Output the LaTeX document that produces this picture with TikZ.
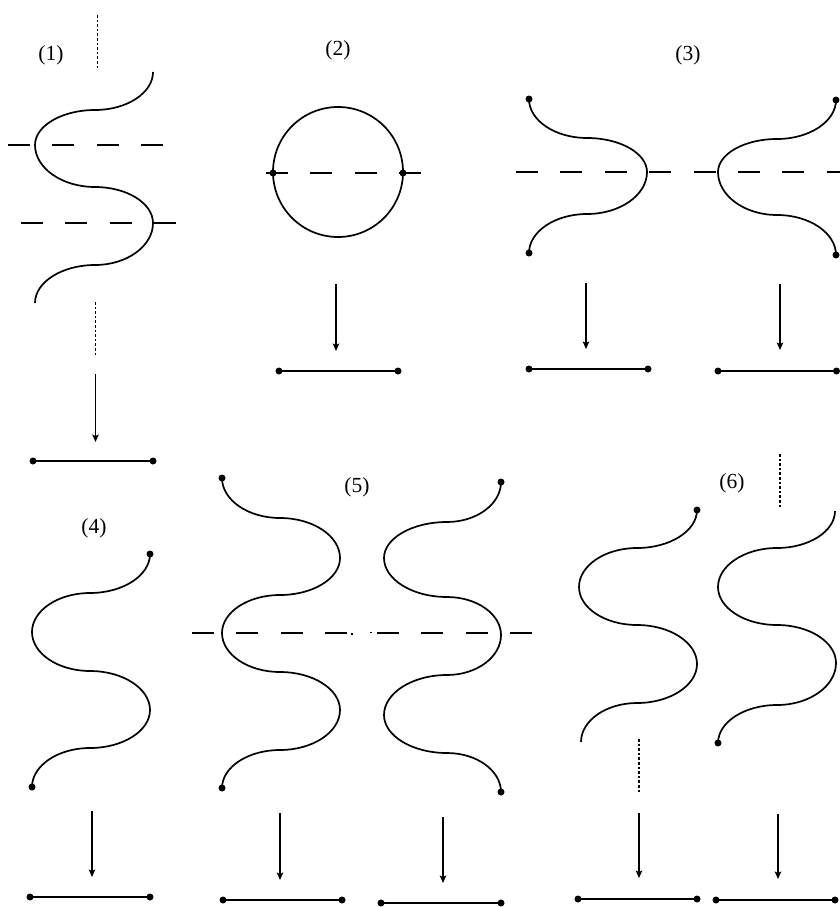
\documentclass[tikz,border=0pt]{standalone}
\usepackage{fontspec}
\setmainfont{Liberation Serif}
\usetikzlibrary{arrows.meta}
% vertical tangent at current point (#1,#2) -> horizontal tangent at (#3,#4)
\newcommand{\wvh}[4]{.. controls (#1,{#2+0.55*(#4-#2)}) and ({#3+0.55*(#1-#3)},#4) .. (#3,#4)}
% horizontal tangent at current point (#1,#2) -> vertical tangent at (#3,#4)
\newcommand{\whv}[4]{.. controls ({#1+0.55*(#3-#1)},#2) and (#3,{#4+0.55*(#2-#4)}) .. (#3,#4)}
\tikzset{
  wave/.style={line width=1.7pt},
  dashln/.style={line width=1.6pt, dash pattern=on 22pt off 22.4pt},
  dotln/.style={line width=1.7pt, dash pattern=on 2.6pt off 2pt},
  arr/.style={line width=1.6pt, -{Stealth[length=7.5pt,width=6.5pt,inset=1.5pt]}},
  seg/.style={line width=1.7pt},
  lbl/.style={font=\fontsize{21.5}{25}\selectfont, inner sep=0pt},
  blob/.style={fill=black},
}
\newcommand{\blobat}[1]{\fill[blob] #1 circle[radius=3.5];}
\begin{document}
\begin{tikzpicture}[x=1pt,y=-1pt]
\useasboundingbox (0,0) rectangle (840,907);

% ---------- panel (1)
\node[lbl] (l1) at (51,55) {(1)};
\draw[dotln] (97.5,15) -- (97.5,70);
\draw[wave] (153,72) \wvh{153}{72}{95}{110} \whv{95}{110}{35}{145}
  \wvh{35}{145}{95}{187} \whv{95}{187}{153}{223} \wvh{153}{223}{95}{265}
  \whv{95}{265}{35}{303};
\draw[dashln] (8,145) -- (164,145);
\draw[dashln] (21,223) -- (176,223);
\draw[dotln] (95.5,302) -- (95.5,355);
\coordinate (a1s) at (95.5,374); \coordinate (a1e) at (95.5,442);
\draw[arr] (a1s) -- (a1e);
\coordinate (b1l) at (33,461); \coordinate (b1r) at (153,461);
\draw[seg] (b1l) -- (b1r); \blobat{(b1l)} \blobat{(b1r)}

% ---------- panel (2)
\node[lbl] (l2) at (338,50) {(2)};
\draw[wave] (338,172) circle[radius=65];
\draw[dashln] (266,173) -- (422,173);
\blobat{(273,173)} \blobat{(403,173)}
\coordinate (a2s) at (336,284); \coordinate (a2e) at (336,351);
\draw[arr] (a2s) -- (a2e);
\coordinate (b2l) at (279,371); \coordinate (b2r) at (398,371);
\draw[seg] (b2l) -- (b2r); \blobat{(b2l)} \blobat{(b2r)}

% ---------- panel (3)
\node[lbl] (l3) at (688,55) {(3)};
\draw[wave] (529,99) \wvh{529}{99}{587}{138} \whv{587}{138}{647}{172}
  \wvh{647}{172}{587}{214} \whv{587}{214}{529}{253};
\blobat{(529,99)} \blobat{(529,253)}
\draw[wave] (836,100) \wvh{836}{100}{777}{139} \whv{777}{139}{718}{172}
  \wvh{718}{172}{777}{215} \whv{777}{215}{836}{255};
\blobat{(836,100)} \blobat{(836,255)}
\draw[dashln] (516,172) -- (845,172);
\coordinate (a3s) at (586,283); \coordinate (a3e) at (586,349);
\draw[arr] (a3s) -- (a3e);
\coordinate (a3s') at (780,284); \coordinate (a3e') at (780,350);
\draw[arr] (a3s') -- (a3e');
\coordinate (b3l) at (529,369); \coordinate (b3r) at (648,369);
\draw[seg] (b3l) -- (b3r); \blobat{(b3l)} \blobat{(b3r)}
\coordinate (b3l') at (718,371); \coordinate (b3r') at (836.5,371);
\draw[seg] (b3l') -- (b3r'); \blobat{(b3l')} \blobat{(b3r')}

% ---------- panel (4)
\node[lbl] (l4) at (94,528) {(4)};
\draw[wave] (150,554) \wvh{150}{554}{90}{593} \whv{90}{593}{32}{632}
  \wvh{32}{632}{90}{671} \whv{90}{671}{150}{710} \wvh{150}{710}{90}{748}
  \whv{90}{748}{32}{787};
\blobat{(150,554)} \blobat{(32,787)}
\coordinate (a4s) at (92,811); \coordinate (a4e) at (92,877);
\draw[arr] (a4s) -- (a4e);
\coordinate (b4l) at (30,897); \coordinate (b4r) at (150,897);
\draw[seg] (b4l) -- (b4r); \blobat{(b4l)} \blobat{(b4r)}

% ---------- panel (5)
\node[lbl] (l5) at (357,487) {(5)};
\draw[wave] (222,478) \wvh{222}{478}{280}{518} \whv{280}{518}{340}{558}
  \wvh{340}{558}{280}{595} \whv{280}{595}{222}{633} \wvh{222}{633}{280}{672}
  \whv{280}{672}{340}{710} \wvh{340}{710}{280}{750} \whv{280}{750}{222}{788};
\blobat{(222,478)} \blobat{(222,788)}
\draw[wave] (501,482) \wvh{501}{482}{447}{522} \whv{447}{522}{384}{558}
  \wvh{384}{558}{447}{597} \whv{447}{597}{501}{635} \wvh{501}{635}{447}{675}
  \whv{447}{675}{384}{715} \wvh{384}{715}{447}{753} \whv{447}{753}{501}{792};
\blobat{(501,482)} \blobat{(501,792)}
\draw[dashln] (192,633) -- (348,633);
\draw[line width=1.5pt] (351,634) -- (353,634);
\draw[dashln] (532,633) -- (376,633);
\draw[line width=1.5pt] (370,632.5) -- (372,632.5);
\coordinate (a5s) at (280,813); \coordinate (a5e) at (280,880);
\draw[arr] (a5s) -- (a5e);
\coordinate (a5s') at (443,817); \coordinate (a5e') at (443,883);
\draw[arr] (a5s') -- (a5e');
\coordinate (b5l) at (223,900); \coordinate (b5r) at (342,900);
\draw[seg] (b5l) -- (b5r); \blobat{(b5l)} \blobat{(b5r)}
\coordinate (b5l') at (381,903); \coordinate (b5r') at (501,903);
\draw[seg] (b5l') -- (b5r'); \blobat{(b5l')} \blobat{(b5r')}

% ---------- panel (6)
\node[lbl] (l6) at (732,483) {(6)};
\draw[dotln] (780,454) -- (780,509);
\draw[wave] (697,510) \wvh{697}{510}{637}{548} \whv{637}{548}{579}{587}
  \wvh{579}{587}{637}{625} \whv{637}{625}{697}{664} \wvh{697}{664}{637}{703}
  \whv{637}{703}{581}{742};
\blobat{(697,510)}
\draw[wave] (835,511) \wvh{835}{511}{777}{548} \whv{777}{548}{718}{587}
  \wvh{718}{587}{777}{625} \whv{777}{625}{836}{663} \wvh{836}{663}{777}{705}
  \whv{777}{705}{718}{743};
\blobat{(718,743)}
\draw[dotln] (639,739) -- (639,794);
\coordinate (a6s) at (639,813); \coordinate (a6e) at (639,878);
\draw[arr] (a6s) -- (a6e);
\coordinate (a6s') at (778,814); \coordinate (a6e') at (778,879);
\draw[arr] (a6s') -- (a6e');
\coordinate (b6l) at (578,899); \coordinate (b6r) at (697,899);
\draw[seg] (b6l) -- (b6r); \blobat{(b6l)} \blobat{(b6r)}
\coordinate (b6l') at (716,900); \coordinate (b6r') at (835,900);
\draw[seg] (b6l') -- (b6r'); \blobat{(b6l')} \blobat{(b6r')}
\end{tikzpicture}
\end{document}
